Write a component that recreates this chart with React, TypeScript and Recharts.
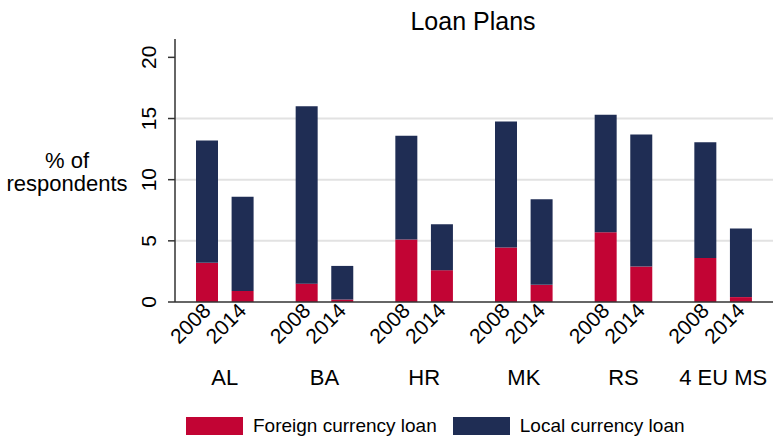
import { BarChart, Bar, XAxis, YAxis, CartesianGrid, Legend } from "recharts";

const GROUPS = ["AL", "BA", "HR", "MK", "RS", "4 EU MS"];
const YEARS = ["2008", "2014"];
const FOREIGN_2008 = [3.2, 1.5, 5.1, 4.45, 5.7, 3.6];
const LOCAL_2008 = [10.0, 14.5, 8.5, 10.3, 9.6, 9.45];
const FOREIGN_2014 = [0.9, 0.2, 2.6, 1.4, 2.9, 0.4];
const LOCAL_2014 = [7.7, 2.75, 3.75, 7.0, 10.8, 5.6];
const Y_TICKS = [0, 5, 10, 15, 20];
const GRID_LINES = [5, 10, 15];

const RED = "#C20434";
const NAVY = "#1F2D54";
const FONT = "'Liberation Sans', Arial, sans-serif";

const SERIES = [
  { label: "Foreign currency loan", color: RED },
  { label: "Local currency loan", color: NAVY },
];

const data = GROUPS.map((g, i) => ({
  group: g,
  f08: FOREIGN_2008[i],
  l08: LOCAL_2008[i],
  f14: FOREIGN_2014[i],
  l14: LOCAL_2014[i],
}));

const BAR = 22;
const GAP = 13.6;
const HALF = (BAR + GAP) / 2;

function GroupTick({ x, y, payload }: any) {
  return (
    <g>
      {YEARS.map((yr, i) => {
        const cx = x + (i === 0 ? -HALF : HALF) + 5;
        const cy = y + 10;
        return (
          <text
            key={yr}
            x={cx}
            y={cy}
            textAnchor="end"
            fontSize={21}
            fill="#000"
            transform={`rotate(-45, ${cx}, ${cy})`}
          >
            {yr}
          </text>
        );
      })}
      <text x={x} y={y + 83} textAnchor="middle" fontSize={22} fill="#000">
        {payload.value}
      </text>
    </g>
  );
}

function ValueTick({ x, y, payload }: any) {
  const bx = x - 12;
  return (
    <text
      x={bx}
      y={y}
      textAnchor="middle"
      fontSize={21}
      fill="#000"
      transform={`rotate(-90, ${bx}, ${y})`}
    >
      {payload.value}
    </text>
  );
}

function LegendBox() {
  return (
    <div
      style={{
        display: "flex",
        alignItems: "center",
        height: 24,
        paddingLeft: 186,
        fontFamily: FONT,
        fontSize: 19,
        color: "#000",
      }}
    >
      {SERIES.map((s) => (
        <div key={s.label} style={{ display: "flex", alignItems: "center", marginRight: 16 }}>
          <span style={{ width: 57, height: 18, background: s.color, marginRight: 10 }} />
          <span>{s.label}</span>
        </div>
      ))}
    </div>
  );
}

export default function App() {
  return (
    <div style={{ position: "absolute", left: 0, top: 0, fontFamily: FONT }}>
      <BarChart
        width={773}
        height={439}
        data={data}
        margin={{ top: 39, right: 0, left: 0, bottom: 1 }}
        barSize={BAR}
        barGap={GAP}
        style={{ fontFamily: FONT }}
      >
        <CartesianGrid
          vertical={false}
          horizontalValues={GRID_LINES}
          stroke="#e2e2e2"
          strokeWidth={2}
        />
        <XAxis
          dataKey="group"
          height={112}
          tick={GroupTick}
          tickLine={false}
          tickSize={0}
          tickMargin={0}
          axisLine={{ stroke: "#333", strokeWidth: 1.5 }}
          interval={0}
        />
        <YAxis
          width={175}
          domain={[0, 21.5]}
          ticks={Y_TICKS}
          tick={ValueTick}
          tickSize={7}
          tickMargin={0}
          tickLine={{ stroke: "#333", strokeWidth: 1.5 }}
          axisLine={{ stroke: "#333", strokeWidth: 1.5 }}
        />
        <Legend verticalAlign="bottom" content={LegendBox} />
        <Bar dataKey="f08" stackId="2008" fill={RED} isAnimationActive={false} />
        <Bar dataKey="l08" stackId="2008" fill={NAVY} isAnimationActive={false} />
        <Bar dataKey="f14" stackId="2014" fill={RED} isAnimationActive={false} />
        <Bar dataKey="l14" stackId="2014" fill={NAVY} isAnimationActive={false} />
        <text x={473} y={30} textAnchor="middle" fontSize={25} fill="#000">
          Loan Plans
        </text>
        <text x={67} y={168} textAnchor="middle" fontSize={22} fill="#000">
          % of
        </text>
        <text x={67} y={191} textAnchor="middle" fontSize={22} fill="#000">
          respondents
        </text>
      </BarChart>
    </div>
  );
}
